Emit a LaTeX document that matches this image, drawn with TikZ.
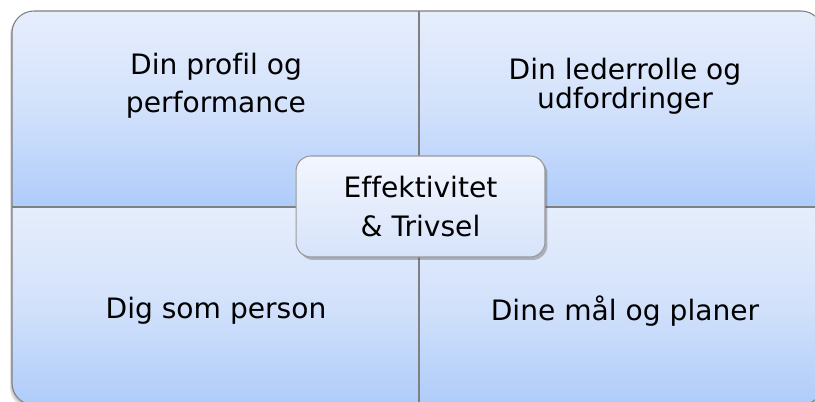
\documentclass[tikz,border=0pt]{standalone}
\usepackage{fontspec}
\setmainfont[Ligatures=NoCommon]{DejaVu Sans}
\usetikzlibrary{shadows, positioning}

\definecolor{qtop}{RGB}{230,238,252}
\definecolor{qmid}{RGB}{210,225,251}
\definecolor{qbot}{RGB}{174,204,250}
\definecolor{ctop}{RGB}{243,246,254}
\definecolor{cbot}{RGB}{214,227,250}
\definecolor{edge}{RGB}{128,128,128}

\begin{document}
\begin{tikzpicture}[
  x=0.02cm, y=-0.02cm,
  quad/.style={top color=qtop, bottom color=qbot, middle color=qmid},
  qtext/.style={inner sep=0pt, align=center, font=\fontsize{16}{21.5}\selectfont},
  core/.style={draw=edge!80, line width=0.6pt, rounded corners=0.3cm,
    top color=ctop, bottom color=cbot, minimum width=4.98cm, minimum height=2.02cm,
    align=center, font=\fontsize{16}{22}\selectfont,
    drop shadow={shadow xshift=0.05cm, shadow yshift=-0.06cm, opacity=0.35, fill=black!70}},
]
\useasboundingbox (0,0) rectangle (815,402);

% soft shadow of the board
\fill[black, opacity=0.12, rounded corners=0.44cm] (10,13) rectangle (823,409);
\fill[black, opacity=0.12, rounded corners=0.44cm] (11,12) rectangle (823,407);

% the four fields
\begin{scope}
  \clip[rounded corners=0.44cm] (12,11) rectangle (823,405);
  \path[quad] (12,11) rectangle (419,207);
  \path[quad] (419,11) rectangle (823,207);
  \path[quad] (12,207) rectangle (419,405);
  \path[quad] (419,207) rectangle (823,405);
\end{scope}
\draw[edge, line width=0.6pt, rounded corners=0.44cm] (12,11) rectangle (823,405);

\coordinate (vtop) at (419,11);
\coordinate (vbot) at (419,405);
\coordinate (hl) at (12,207);
\coordinate (hr) at (823,207);
\draw[edge, line width=0.6pt] (vtop) -- (vbot);
\draw[edge, line width=0.6pt] (hl) -- (hr);

% texts
\node[qtext] (profil) at (216,86) {Din profil og\\performance};
\node[qtext, font=\fontsize{16}{16.5}\selectfont] (rolle) at (625,86) {Din lederrolle og\\udfordringer};
\node[qtext] (person) at (216,311) {Dig som person};
\node[qtext] (maal) at (625,311) {Dine mål og planer};

\node[core] (midt) at (420.5,206.5) {Effektivitet\\\& Trivsel};
\end{tikzpicture}
\end{document}
